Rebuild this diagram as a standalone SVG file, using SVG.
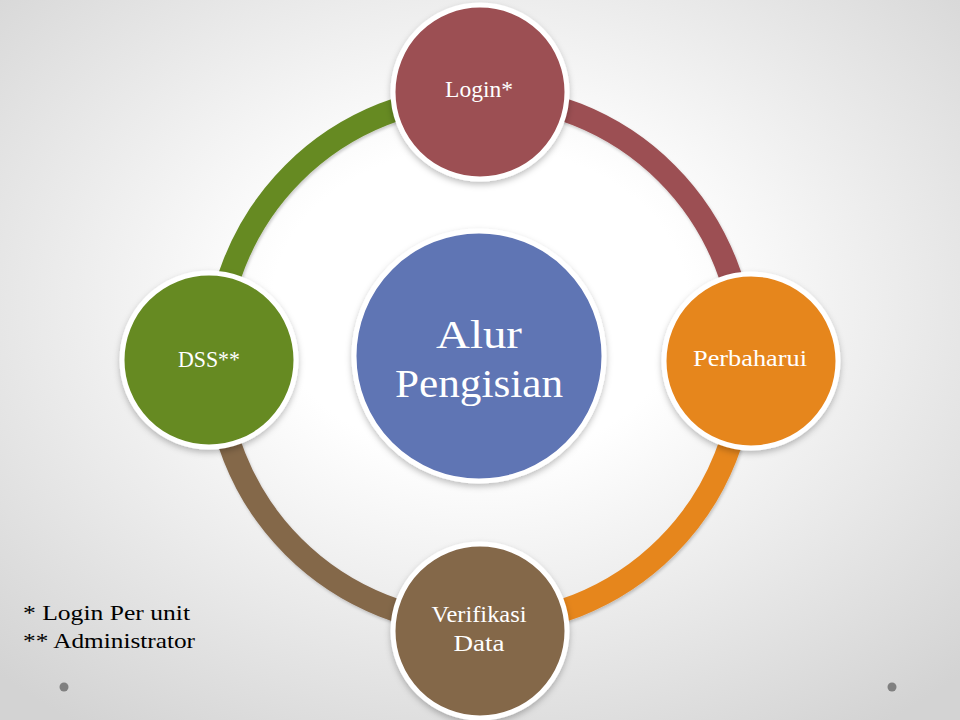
<svg xmlns="http://www.w3.org/2000/svg" width="960" height="720" viewBox="0 0 960 720">
  <defs>
    <radialGradient id="bg" cx="50%" cy="42%" r="72%">
      <stop offset="0.3" stop-color="#ffffff"/>
      <stop offset="1" stop-color="#d3d3d3"/>
    </radialGradient>
    <filter id="sh" x="-20%" y="-20%" width="140%" height="150%">
      <feDropShadow dx="0" dy="3" stdDeviation="3" flood-color="#000" flood-opacity="0.25"/>
    </filter>
    <filter id="ash" x="-10%" y="-10%" width="120%" height="120%">
      <feDropShadow dx="1" dy="2" stdDeviation="1.5" flood-color="#000" flood-opacity="0.2"/>
    </filter>
  </defs>
  <style>
    .arc { fill: none; stroke-width: 23; stroke-linecap: butt; filter: url(#ash); }
    .node { stroke: #ffffff; stroke-width: 5; filter: url(#sh); }
    .lbl { font-family: "Liberation Serif", "Times New Roman", serif; fill: #ffffff; font-size: 24px; text-anchor: middle; }
    .big { font-size: 40px; }
    .note { font-family: "Liberation Serif", "Times New Roman", serif; fill: #000000; font-size: 22px; }
  </style>
  <rect x="0" y="0" width="960" height="720" fill="url(#bg)"/>

  <g id="connectors">
    <path class="arc" stroke="#668A22" d="M 216 360 A 264 264 0 0 1 480 96"/>
    <path class="arc" stroke="#9C4F52" d="M 480 96 A 264 264 0 0 1 744 360"/>
    <path class="arc" stroke="#E6861F" d="M 744 360 A 264 264 0 0 1 480 624"/>
    <path class="arc" stroke="#84674A" d="M 480 624 A 264 264 0 0 1 216 360"/>
  </g>

  <g id="center">
    <circle class="node" cx="479" cy="356" r="125" fill="#5F74B4"/>
    <text class="lbl big" x="479" y="348" textLength="86" lengthAdjust="spacingAndGlyphs">Alur</text>
    <text class="lbl big" x="479" y="397" textLength="168" lengthAdjust="spacingAndGlyphs">Pengisian</text>
  </g>

  <g id="login">
    <circle class="node" cx="480" cy="92" r="87" fill="#9C4F52"/>
    <text class="lbl" x="479" y="97" textLength="68" lengthAdjust="spacingAndGlyphs">Login*</text>
  </g>

  <g id="perbaharui">
    <circle class="node" cx="751" cy="361" r="87" fill="#E6861F"/>
    <text class="lbl" x="750" y="366" textLength="114" lengthAdjust="spacingAndGlyphs">Perbaharui</text>
  </g>

  <g id="verifikasi">
    <circle class="node" cx="480" cy="631" r="87" fill="#84674A"/>
    <text class="lbl" x="479" y="622" textLength="95" lengthAdjust="spacingAndGlyphs">Verifikasi</text>
    <text class="lbl" x="479" y="651" textLength="51" lengthAdjust="spacingAndGlyphs">Data</text>
  </g>

  <g id="dss">
    <circle class="node" cx="209" cy="360" r="87" fill="#668A22"/>
    <text class="lbl" x="209" y="367" textLength="62" lengthAdjust="spacingAndGlyphs">DSS**</text>
  </g>

  <g id="notes">
    <text class="note" x="23" y="620" textLength="167" lengthAdjust="spacingAndGlyphs">* Login Per unit</text>
    <text class="note" x="23" y="648" textLength="172" lengthAdjust="spacingAndGlyphs">** Administrator</text>
  </g>

  <g id="dots" fill="#808080">
    <circle cx="64" cy="687" r="4.5"/>
    <circle cx="892" cy="687" r="4.5"/>
  </g>
</svg>
